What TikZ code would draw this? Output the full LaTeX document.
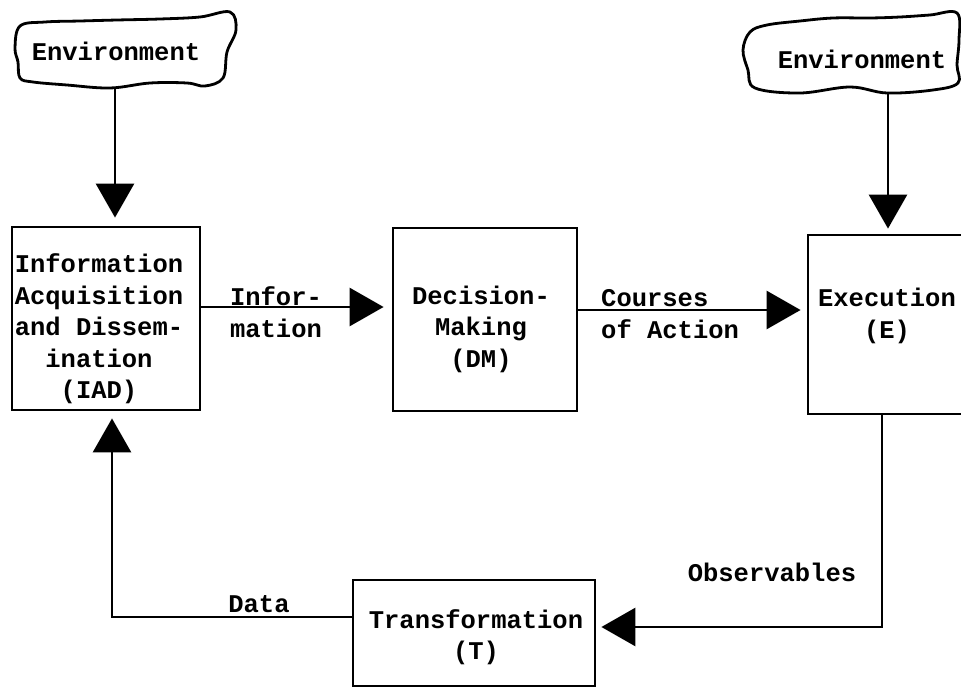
\documentclass[tikz,border=0pt]{standalone}
\usepackage{fontspec}
\setmainfont{Liberation Mono}
\usetikzlibrary{arrows.meta,calc}
\tikzset{
  box/.style={draw, line width=2.8pt, inner sep=0pt},
  lbl/.style={font=\bfseries\fontsize{25.5}{31.5}\selectfont, align=center, inner sep=0pt},
  flow/.style={line width=2.8pt, -{Triangle[length=34pt,width=38pt]}},
  cloudline/.style={line width=2.8pt, fill=white}
}
\begin{document}
\begin{tikzpicture}[x=1pt,y=-1pt]
\clip (0,0) rectangle (961,693);
\fill[white] (0,0) rectangle (961,693);

% clouds
\draw[cloudline] plot[smooth cycle, tension=0.6] coordinates {
  (20,26) (45,22) (80,21) (117,20) (160,19) (200,17) (230,12) (236,30)
  (227,52) (223,78) (205,86) (187,83) (150,83) (110,88) (67,85) (33,82)
  (20,78) (18,62) (15,48)};
\draw[cloudline] plot[smooth cycle, tension=0.6] coordinates {
  (750,32) (767,25) (800,21) (833,18) (870,18) (900,17) (930,15) (957,13)
  (959,40) (957,65) (958,83) (933,90) (887,93) (850,87) (800,93) (755,88)
  (748,70) (743,50)};
\node[lbl] (env1) at (116,51) {Environment};
\node[lbl] (env2) at (862,59) {Environment};
\coordinate (env1b) at (115,88);
\coordinate (env2b) at (888,93);

% boxes
\node[box, minimum width=188pt, minimum height=183pt] (IAD) at (106,318.5) {};
\node[lbl] (IADt) at (99,329) {Information\\Acquisition\\and Dissem-\\ination\\(IAD)};
\node[box, minimum width=184pt, minimum height=183pt] (DM) at (485,319.5) {};
\node[lbl] (DMt) at (481,329) {Decision-\\Making\\(DM)};
\node[box, minimum width=160pt, minimum height=179pt] (E) at (888,324.5) {};
\node[lbl] (Et) at (887,316) {Execution\\(E)};
\node[box, minimum width=242pt, minimum height=106pt] (T) at (474,633) {};
\node[lbl] (Tt) at (476,637) {Transformation\\(T)};

% labels
\node[lbl] (linfo) at (276,312) {Infor-\\mation};
\node[lbl, anchor=west, align=left] (lcourse) at (601,314) {Courses\\of Action};
\node[lbl] (lobs) at (772,572) {Observables};
\node[lbl] (ldata) at (259,604) {Data};

% connectors
\draw[flow, shorten >=8pt] (env1b) -- (env1b |- IAD.north);
\draw[flow, shorten >=5pt] (env2b) -- (env2b |- E.north);
\draw[flow, shorten >=8pt] (IAD.east |- 0,307) -- (DM.west |- 0,307);
\draw[flow, shorten >=6pt] (DM.east |- 0,310) -- (E.west |- 0,310);
\coordinate (obsA) at (882,627);
\draw[flow, shorten >=5pt] (E.south -| obsA) -- (obsA) -- (T.east |- obsA);
\coordinate (dataA) at (112,617);
\draw[flow, shorten >=7pt] (T.west |- dataA) -- (dataA) -- (IAD.south -| dataA);
\end{tikzpicture}
\end{document}
